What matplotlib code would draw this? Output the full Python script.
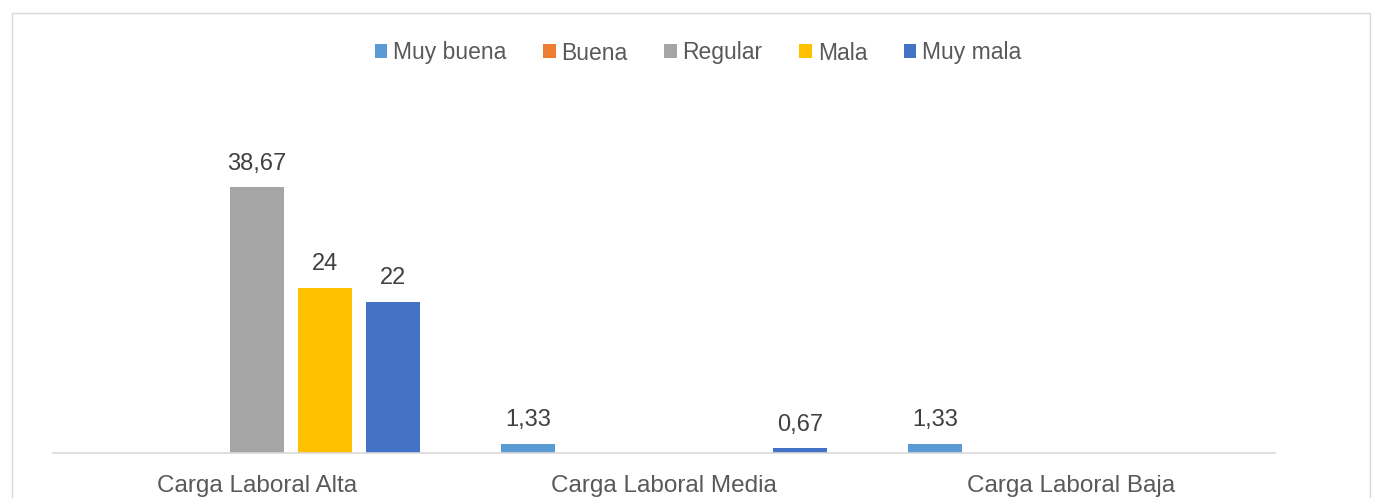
import matplotlib
matplotlib.use("Agg")
import matplotlib.pyplot as plt
import numpy as np
from matplotlib.patches import Rectangle

plt.rcParams['font.family'] = ['Liberation Sans', 'DejaVu Sans']

categorias = ["Carga Laboral Alta", "Carga Laboral Media", "Carga Laboral Baja"]
series = ["Muy buena", "Buena", "Regular", "Mala", "Muy mala"]
muy_buena = [0, 1.33, 1.33]
buena = [0, 0, 0]
regular = [38.67, 0, 0]
mala = [24, 0, 0]
muy_mala = [22, 0.67, 0]
colores = ["#5B9BD5", "#ED7D31", "#A5A5A5", "#FFC000", "#4472C4"]

valores = [muy_buena, buena, regular, mala, muy_mala]

fig = plt.figure(figsize=(13.73, 4.98), dpi=100)
ax = fig.add_axes([53 / 1373, 1 - 453 / 498, 1222 / 1373, 0.62])

x = np.arange(len(categorias))
paso = 0.167
ancho = 0.133
for i, (nombre, vals, col) in enumerate(zip(series, valores, colores)):
    pos = x + (i - 2) * paso
    barras = ax.bar(pos, vals, ancho, color=col, label=nombre)
    for b, v in zip(barras, vals):
        if v > 0:
            txt = f"{v:g}".replace(".", ",")
            ax.annotate(txt, (b.get_x() + b.get_width() / 2, v),
                        xytext=(0, 9), textcoords="offset points",
                        ha="center", va="bottom", fontsize=17, color="#404040")

ax.set_xlim(-0.5, 2.5)
ax.set_ylim(0, 44.9)
ax.set_yticks([])
ax.set_xticks(x)
ax.set_xticklabels(categorias, fontsize=17.5, color="#595959")
ax.tick_params(axis="x", length=0, pad=16)
for s in ["top", "right", "left"]:
    ax.spines[s].set_visible(False)
ax.spines["bottom"].set_color("#D9D9D9")
ax.spines["bottom"].set_linewidth(1.2)

fig.legend(loc="center", bbox_to_anchor=(698 / 1373, 1 - 53 / 498), ncol=5,
           frameon=False, fontsize=16.5, handlelength=0.55, handleheight=0.55,
           handletextpad=0.25, columnspacing=1.6, labelcolor="#595959")

fig.patches.append(Rectangle((12 / 1373, -0.1), 1358 / 1373, 1.1 - 13 / 498,
                             transform=fig.transFigure, fill=False,
                             edgecolor="#D9D9D9", linewidth=1))

fig.savefig("out.png", dpi=100)
